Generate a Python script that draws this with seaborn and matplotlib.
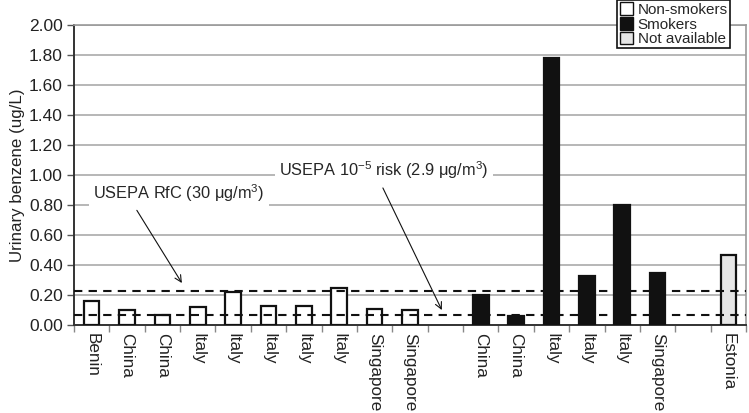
import numpy as np
import pandas as pd
import matplotlib
matplotlib.use("Agg")
import matplotlib.pyplot as plt
from matplotlib.patches import Patch
import seaborn as sns

# datos
paises_no_fum = ["Benin", "China", "China", "Italy", "Italy", "Italy", "Italy", "Italy", "Singapore", "Singapore"]
valores_no_fum = [0.16, 0.10, 0.07, 0.12, 0.22, 0.13, 0.13, 0.25, 0.11, 0.10]
paises_fum = ["China", "China", "Italy", "Italy", "Italy", "Singapore"]
valores_fum = [0.20, 0.06, 1.78, 0.33, 0.80, 0.35]
paises_nd = ["Estonia"]
valores_nd = [0.47]
grupos = ["Non-smokers", "Smokers", "Not available"]
colores = {"Non-smokers": "white", "Smokers": "#111111", "Not available": "#e6e6e6"}
linea_rfc = 0.23
linea_riesgo = 0.065

sns.set_theme(style="white")
plt.rcParams["font.family"] = ["Liberation Sans", "DejaVu Sans"]
plt.rcParams["mathtext.fontset"] = "custom"
plt.rcParams["mathtext.rm"] = "Liberation Sans"
plt.rcParams["mathtext.default"] = "regular"

# posiciones con huecos entre grupos
pos_no_fum = list(range(len(paises_no_fum)))
pos_fum = [len(paises_no_fum) + 1 + i for i in range(len(paises_fum))]
pos_nd = [pos_fum[-1] + 2]
n_total = pos_nd[-1] + 1

df = pd.DataFrame({
    "pos": pos_no_fum + pos_fum + pos_nd,
    "valor": valores_no_fum + valores_fum + valores_nd,
    "grupo": ["Non-smokers"] * len(paises_no_fum) + ["Smokers"] * len(paises_fum) + ["Not available"] * len(paises_nd),
})
etiquetas = [""] * n_total
for p, e in zip(df["pos"], paises_no_fum + paises_fum + paises_nd):
    etiquetas[p] = e

fig = plt.figure(figsize=(7.49, 4.13), dpi=100)
ax = fig.add_axes([0.0988, 0.213, 0.8972, 0.7265])

sns.barplot(data=df, x="pos", y="valor", hue="grupo", order=list(range(n_total)),
            hue_order=grupos, palette=colores, dodge=False, width=0.44,
            edgecolor="#111111", linewidth=1.6, legend=False, ax=ax, zorder=3)

# lineas de referencia
ax.axhline(linea_rfc, color="#111111", ls=(0, (4, 3)), lw=1.5, zorder=4)
ax.axhline(linea_riesgo, color="#111111", ls=(0, (4, 3)), lw=1.5, zorder=4)

ax.set_xlim(-0.5, n_total - 0.5)
ax.set_ylim(0, 2.0)
ax.set_yticks(np.arange(0, 2.01, 0.2))
ax.set_yticklabels([f"{v:.2f}" for v in np.arange(0, 2.01, 0.2)], fontsize=12.5, color="#222222")
ax.yaxis.grid(True, color="#aaaaaa", lw=1.2, zorder=0)
ax.set_axisbelow(True)
ax.tick_params(axis="y", left=True, length=5, width=1, color="#555555", pad=3)

ax.set_xticks(range(n_total))
ax.set_xticklabels(etiquetas, rotation=270, fontsize=12.3, color="#222222", va="top", ha="center")
ax.set_xticks(np.arange(-0.5, n_total, 1), minor=True)
ax.tick_params(axis="x", which="major", length=0, pad=6)
ax.tick_params(axis="x", which="minor", bottom=True, length=5, width=1, color="#888888")

ax.set_xlabel("")
ax.set_ylabel("Urinary benzene (ug/L)", fontsize=12.2, color="#222222", labelpad=3)

for lado in ["left", "bottom"]:
    ax.spines[lado].set_color("#333333")
    ax.spines[lado].set_linewidth(1.4)
for lado in ["top", "right"]:
    ax.spines[lado].set_color("#999999")
    ax.spines[lado].set_linewidth(1.2)

# anotaciones
caja = dict(boxstyle="square,pad=0.25", fc="white", ec="none")
ax.annotate("USEPA RfC (30 μg/m$^{3}$)", xy=(2.55, 0.28), xytext=(0.05, 0.88),
            fontsize=11.8, va="center", ha="left", bbox=caja, zorder=5,
            arrowprops=dict(arrowstyle="->", color="#111111", lw=0.8,
                            shrinkA=2, shrinkB=0, relpos=(0.23, 0.0)))
ax.annotate("USEPA 10$^{-5}$ risk (2.9 μg/m$^{3}$)", xy=(9.9, 0.10), xytext=(5.3, 1.03),
            fontsize=11.8, va="center", ha="left", bbox=caja, zorder=5,
            arrowprops=dict(arrowstyle="->", color="#111111", lw=0.8,
                            shrinkA=2, shrinkB=0, relpos=(0.48, 0.0)))

# leyenda
manijas = [Patch(facecolor=colores[g], edgecolor="#111111", lw=1.0) for g in grupos]
leg = fig.legend(manijas, grupos, loc="upper right", bbox_to_anchor=(0.975, 1.0),
                 fontsize=11, frameon=True, fancybox=False, framealpha=1,
                 edgecolor="#111111", handlelength=0.9, handleheight=0.9,
                 handletextpad=0.3, labelspacing=0.0, borderpad=0.15,
                 borderaxespad=0)
leg.get_frame().set_linewidth(1.2)

fig.savefig("out.png", dpi=100)
